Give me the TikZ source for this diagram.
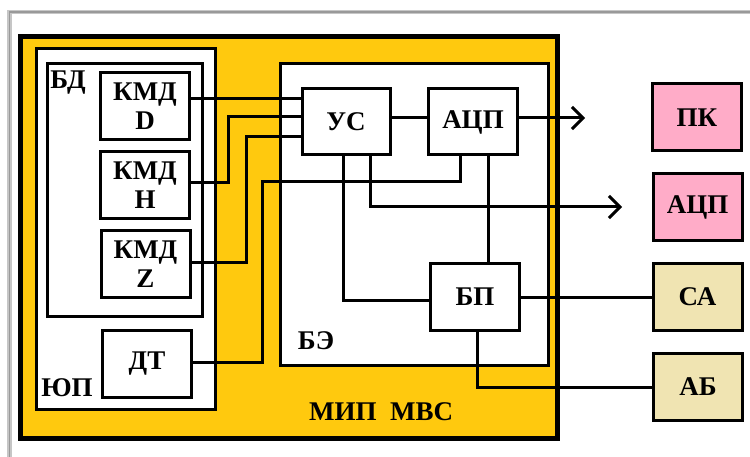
\documentclass[tikz,border=0pt]{standalone}
\usepackage{fontspec}
\setmainfont{Liberation Serif}
\usetikzlibrary{arrows.meta}
\definecolor{mipyellow}{RGB}{255,201,14}
\definecolor{pkpink}{RGB}{255,172,200}
\definecolor{satan}{RGB}{240,228,178}

\begin{document}
\begin{tikzpicture}[x=1pt, y=-1pt, font=\fontsize{27}{29}\selectfont\bfseries,
  blk/.style={draw, line width=3pt, fill=white, inner sep=0pt, align=center,
    minimum width=89pt, minimum height=67pt},
  extblk/.style={blk, fill=#1}]

\useasboundingbox (0,0) rectangle (750,457);
\draw[gray!45, line width=4.5pt] (9.5,457) |- (750,12);
\draw[gray!80, line width=1.5pt] (9.5,457) |- (750,12);

\draw[fill=mipyellow, line width=5pt] (20,37) rectangle (557,438);
\draw[fill=white, line width=3pt] (36,49) rectangle (215,409);
\draw[line width=3pt] (47,64) rectangle (202,316);
\draw[fill=white, line width=3pt] (280,64) rectangle (548,365);

\node (lblBD) at (68,83) {БД};
\node (lblYuP) at (67,388) {ЮП};
\node (lblBE) at (316,341) {БЭ};
\node (lblMIP) at (381,412) {МИП~~МВС};

\node[blk] (kmdD) at (145,106.5) {КМД\\D};
\node[blk] (kmdH) at (145,185.5) {КМД\\H};
\node[blk] (kmdZ) at (145.5,264) {КМД\\Z};
\node[blk] (dt) at (147,364) {ДТ};

\node[blk, minimum width=88pt, minimum height=66pt] (us) at (346,122) {УС};
\node[blk, minimum height=66pt] (adc) at (473,122) {АЦП};
\node[blk] (bp) at (475,297) {БП};

\node[extblk=pkpink] (pk) at (697,117.5) {ПК};
\node[extblk=pkpink] (adcext) at (697.5,207) {АЦП};
\node[extblk=satan] (sa) at (697.5,297) {СА};
\node[extblk=satan] (ab) at (698,387) {АБ};

\coordinate (out1) at (585,118);
\coordinate (out2) at (622,207);

\begin{scope}[line width=3pt]
\draw (kmdD.east |- 0,99) -- (us.west |- 0,99);
\draw (kmdH.east |- 0,183) -| (228,117) -- (us.west |- 0,117);
\draw (kmdZ.east |- 0,263) -| (246,137) -- (us.west |- 0,137);
\draw (dt.east |- 0,362) -| (262,182) -| (adc.south -| 460,0);
\draw (us.east |- 0,118) -- (adc.west |- 0,118);
\draw (us.south -| 343,0) |- (bp.west |- 0,300);
\draw (adc.south -| 488,0) -- (bp.north -| 488,0);
\draw (bp.east) -- (sa.west);
\draw (bp.south -| 477,0) |- (ab.west);
\draw[-{Straight Barb[length=11pt,width=22pt]}] (adc.east |- 0,118) -- (out1);
\draw[-{Straight Barb[length=11pt,width=22pt]}] (us.south -| 370,0) |- (out2);
\end{scope}
\end{tikzpicture}
\end{document}
